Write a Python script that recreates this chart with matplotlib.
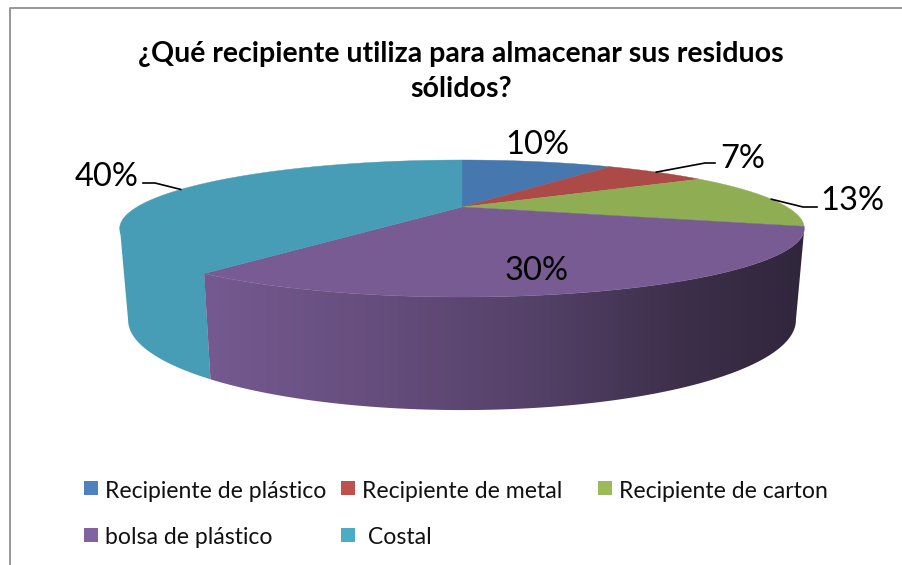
import numpy as np
import matplotlib
matplotlib.use('Agg')
from matplotlib import pyplot as plt
from matplotlib.colors import LinearSegmentedColormap
from matplotlib.patches import Polygon, Rectangle

plt.rcParams['font.family'] = ['Lato', 'DejaVu Sans']

title_lines = ['¿Qué recipiente utiliza para almacenar sus residuos', 'sólidos?']
categories = ['Recipiente de plástico', 'Recipiente de metal', 'Recipiente de carton',
              'bolsa de plástico', ' Costal']
# slice sizes, the printed labels are rounded
shares = [9.7, 6.5, 13.4, 30.5, 39.9]
share_labels = ['10%', '7%', '13%', '30%', '40%']
top_colors = ['#4677ae', '#ac4a47', '#8fae54', '#775b92', '#479db6']
legend_colors = ['#4f81bd', '#c0504d', '#9bbb59', '#8064a2', '#4bacc6']

# pixel layout of the picture
legend_x = [84, 341, 598, 84, 341]
legend_y = [488, 488, 488, 535, 535]
label_xy = [(537, 145), (743, 159), (852, 201), (537, 271), (107, 177)]
leader_end = [None, (705, 163), (803, 207), None, (155, 183)]
leader_tail = [None, (715, 163), (817, 207), None, (143, 183)]

# fake perspective of the tilted disc
k = 0.314
cx = 462


def disc(theta, r, s, cy):
    # theta in degrees, clockwise from the back of the pie
    t = np.radians(theta)
    x = np.sin(t)
    y = -np.cos(t)
    den = 1 - k*y
    return np.column_stack([cx + r*x/den, cy + s*y/den])


def top(theta):
    return disc(theta, 325, 61.75, 207)


def bottom(theta):
    return disc(theta, 317, 81, 292)


fig = plt.figure(figsize=(9.03, 5.65), dpi=100)
ax = fig.add_axes([0, 0, 1, 1])
ax.set_xlim(0, 903)
ax.set_ylim(565, 0)
ax.axis('off')

# chart frame, cut off by the crop on the right and at the bottom
ax.plot([10, 10, 903], [565, 8, 8], color='#8f8f8f', lw=1.3)

edges = 3.6*np.cumsum([0] + shares)

# walls: only the front part of the last two slices is visible
side = np.degrees(np.arcsin(k)) + 90

# teal wall runs a bit under the top surface so no seam shows between them
arc = np.linspace(edges[4], 360 - side, 60)
teal_wall = Polygon(np.vstack([top(arc) - [0, 3], bottom(arc[::-1])]), fc='#479db6', ec='none')
ax.add_patch(teal_wall)

arc = np.linspace(side, edges[4], 120)
purple_wall = Polygon(np.vstack([top(arc), bottom(arc[::-1])]), fc='none', ec='none')
ax.add_patch(purple_wall)
shade = LinearSegmentedColormap.from_list('shade', [(0, '#745a90'), (0.25, '#684f80'), (0.55, '#544168'),
                                                    (0.8, '#3d2f4a'), (1, '#30263c')])
grad = ax.imshow(np.linspace(0, 1, 256).reshape(1, -1), cmap=shade, aspect='auto',
                 extent=(202, 805, 420, 220), zorder=1)
grad.set_clip_path(purple_wall)
ax.set_xlim(0, 903)
ax.set_ylim(565, 0)

# top surface
for i in range(len(shares)):
    arc = np.linspace(edges[i], edges[i+1], 80)
    pts = np.vstack([[cx, 207], top(arc)])
    ax.add_patch(Polygon(pts, fc=top_colors[i], ec=top_colors[i], lw=0.3, zorder=2))

# data labels and leader lines
for i, label in enumerate(share_labels):
    ax.text(label_xy[i][0], label_xy[i][1], label, fontsize=23.5, color='black',
            ha='center', va='center', zorder=4)
    if leader_end[i] is not None:
        mid = top(np.array([(edges[i] + edges[i+1])/2]))[0]
        ax.plot([mid[0], leader_end[i][0], leader_tail[i][0]],
                [mid[1], leader_end[i][1], leader_tail[i][1]], color='black', lw=1.2, zorder=3)

# title
ax.text(461, 62, title_lines[0], fontsize=20.5, fontweight='bold', ha='center', va='baseline')
ax.text(461, 97, title_lines[1], fontsize=20.5, fontweight='bold', ha='center', va='baseline')

# legend, two rows sharing the first two columns
for i, name in enumerate(categories):
    ax.add_patch(Rectangle((legend_x[i], legend_y[i] - 7), 14, 14, fc=legend_colors[i], ec='none'))
    ax.text(legend_x[i] + 21, legend_y[i] + 3, name, fontsize=16.6, color='#111111', ha='left', va='center')

fig.savefig('out.png', dpi=100)
